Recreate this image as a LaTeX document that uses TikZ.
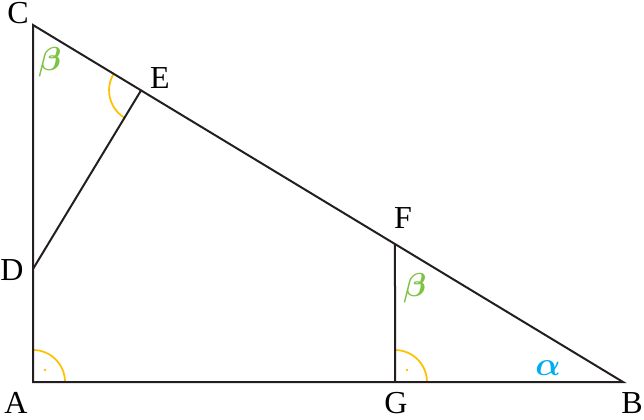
\documentclass[tikz,border=0pt]{standalone}
\usepackage{fontspec}
\usepackage{bm}
\setmainfont{Liberation Serif}
\usetikzlibrary{calc,angles}
\definecolor{ang}{HTML}{FFC000}
\definecolor{grn}{HTML}{7DC242}
\definecolor{cyn}{HTML}{00AEEF}
\definecolor{ink}{HTML}{231F20}
\begin{document}
\begin{tikzpicture}[x=0.75pt,y=0.75pt,
  edge/.style={draw=ink,line width=1.5pt},
  rightang/.style={draw=ang,line width=1.3pt,angle radius=24pt},
  ptlabel/.style={font=\fontsize{24}{28}\selectfont,inner sep=0pt},
  greek/.style={font=\fontsize{32}{36}\selectfont,inner sep=0pt}]
\useasboundingbox (0,0) rectangle (644,419);
\coordinate (A) at (33,37);
\coordinate (B) at (623,37);
\coordinate (C) at (33,394);
\coordinate (D) at (33,150);
\coordinate (E) at ($(C)!(D)!(B)$);
\coordinate (G) at (395,37);
\coordinate (F) at ($(C)!{(395-33)/590}!(B)$);
% angle marks
\pic[rightang] {angle=B--A--C};
\pic[rightang] {angle=B--G--F};
\pic[rightang] {angle=C--E--D};
\fill[ang] ($(A)+(45:17)$) circle (1.3);
\fill[ang] ($(G)+(45:17)$) circle (1.3);
\fill[ang] ($(E)!17!($(E)!1!45:(D)$)$) circle (1.3);
% edges
\draw[edge,line join=miter] (A) -- (B) -- (C) -- cycle;
\draw[edge] (D) -- (E);
\draw[edge] (F) -- (G);
% labels
\node[ptlabel] (lC) at (18,406) {C};
\node[ptlabel] (lE) at (160,341) {E};
\node[ptlabel] (lF) at (403,201) {F};
\node[ptlabel] (lD) at (12,149) {D};
\node[ptlabel] (lA) at (16,16) {A};
\node[ptlabel] (lG) at (396,16) {G};
\node[ptlabel] (lB) at (632,16) {B};
\node[greek,text=grn] (b1) at (50,357) {$\bm{\beta}$};
\node[greek,text=grn] (b2) at (415,131) {$\bm{\beta}$};
\node[greek,text=cyn] (al) at (548,51) {$\bm{\alpha}$};
\end{tikzpicture}
\end{document}
